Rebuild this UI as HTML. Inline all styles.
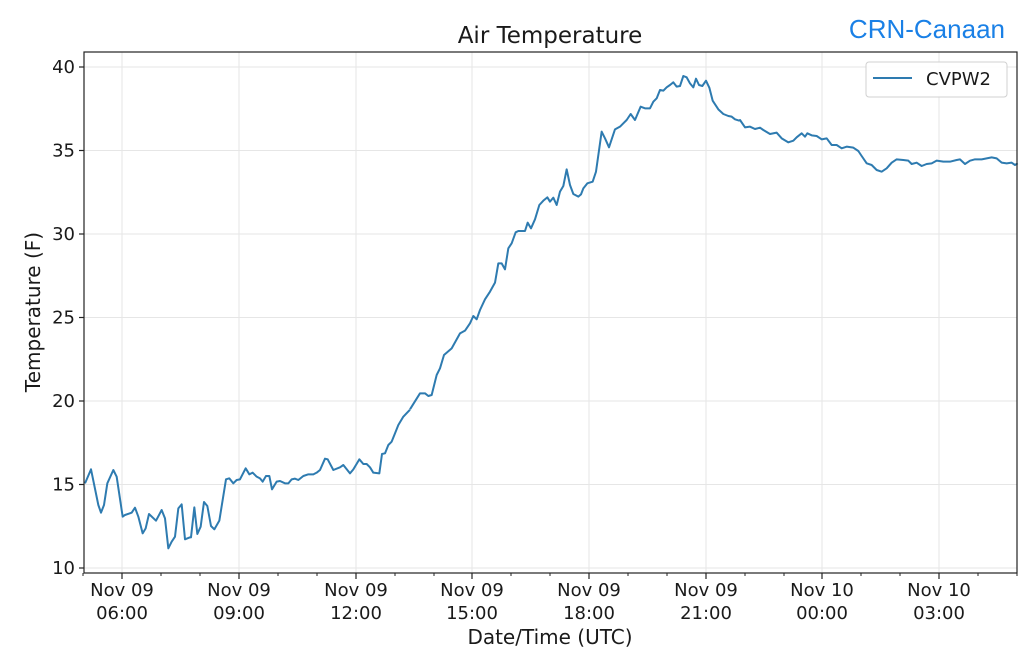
<!DOCTYPE html>
<html><head><meta charset="utf-8"><style>
html,body{margin:0;padding:0;background:#fff;}
svg text{font-family:"DejaVu Sans","Liberation Sans",sans-serif;fill:#1a1a1a;}
</style></head><body>
<svg width="1024" height="661" viewBox="0 0 1024 661" xmlns="http://www.w3.org/2000/svg">
<rect width="1024" height="661" fill="#fff"/>
<g stroke="#e6e6e6" stroke-width="1">
<line x1="84" x2="1017" y1="67" y2="67"/><line x1="84" x2="1017" y1="150.5" y2="150.5"/>
<line x1="84" x2="1017" y1="234" y2="234"/><line x1="84" x2="1017" y1="317.5" y2="317.5"/>
<line x1="84" x2="1017" y1="401" y2="401"/><line x1="84" x2="1017" y1="484.5" y2="484.5"/>
<line x1="84" x2="1017" y1="568" y2="568"/>
<line y1="52" y2="573" x1="122" x2="122"/><line y1="52" y2="573" x1="239" x2="239"/>
<line y1="52" y2="573" x1="356" x2="356"/><line y1="52" y2="573" x1="472" x2="472"/>
<line y1="52" y2="573" x1="589" x2="589"/><line y1="52" y2="573" x1="706" x2="706"/>
<line y1="52" y2="573" x1="822" x2="822"/><line y1="52" y2="573" x1="939" x2="939"/>
</g>
<g fill="none" stroke="#2e7bb0" stroke-width="2" stroke-linejoin="round">
<g transform="translate(80,380) scale(0.33333)"><polyline vector-effect="non-scaling-stroke" points="15,310 33,268 55,375 63,398 72,375 82,310 100,270 110,290 128,410 135,405 155,398 165,383 175,410 188,460 197,445 207,402 228,422 245,390 255,415 265,505 275,485 285,470 295,385 305,373 315,478 330,472 333,472 343,382 352,462 362,440 372,366 382,378 393,438 403,448 418,422 438,298 448,295 460,310 470,300 480,298 497,265 508,283 518,278 530,290 540,295 548,305 558,288 568,288 576,328 590,305 600,303 615,310 625,310 635,298 645,296 655,300 670,288 685,283 700,283 710,278 720,270 735,236 743,238 760,270 780,262 790,255 810,280 820,268 838,238 850,252 860,252 870,262 880,278 898,280 906,222 915,220 925,195 935,185 945,160 955,135 970,110 990,89"/></g>
<g transform="translate(400,60) scale(0.33333)"><polyline vector-effect="non-scaling-stroke" points="30,1048 60,1000 75,1000 85,1008 95,1005 110,945 120,925 132,885 155,865 180,820 195,812 210,790 220,768 230,778 240,750 255,718 270,695 285,668 295,610 305,610 315,628 325,565 335,550 347,517 355,513 375,513 383,488 393,505 405,478 418,435 430,422 442,412 450,425 460,413 470,435 480,395 490,378 500,328 510,375 520,402 535,410 543,403 550,385 562,370 578,365 588,335 605,215 615,235 627,262 645,208 660,200 670,190 680,180 692,162 705,180 722,140 735,145 750,145 760,125 770,115 780,90 790,92 800,82 810,75 820,67 830,80 840,78 850,48 860,52 870,70 880,82 888,56 897,75 907,78 918,62 928,83 938,122 955,148 970,162 985,168 995,170 1005,178 1018,182"/></g>
<g transform="translate(690,50) scale(0.33333)"><polyline vector-effect="non-scaling-stroke" points="147,213 150,210 165,232 180,230 195,237 210,233 220,240 240,252 260,248 275,265 295,277 310,272 320,262 335,250 345,260 352,250 365,256 380,258 395,268 410,265 425,285 440,285 455,295 470,290 490,293 505,303 515,318 530,340 545,345 560,360 575,365 590,355 605,338 620,328 640,330 655,332 665,342 680,338 695,348 710,342 725,340 740,332 760,335 780,335 800,330 810,328 825,342 840,332 855,328 875,328 890,325 905,322 920,325 935,338 950,340 965,338 975,345 983,340"/></g>
</g>
<rect x="84" y="52" width="933" height="521" fill="none" stroke="#222" stroke-width="1.2"/>
<g stroke="#222" stroke-width="1.2">
<line x1="79" x2="84" y1="67" y2="67"/><line x1="79" x2="84" y1="150.5" y2="150.5"/><line x1="79" x2="84" y1="234" y2="234"/><line x1="79" x2="84" y1="317.5" y2="317.5"/><line x1="79" x2="84" y1="401" y2="401"/><line x1="79" x2="84" y1="484.5" y2="484.5"/><line x1="79" x2="84" y1="568" y2="568"/>
<line y1="573" y2="579" x1="122" x2="122"/><line y1="573" y2="579" x1="239" x2="239"/><line y1="573" y2="579" x1="356" x2="356"/><line y1="573" y2="579" x1="472" x2="472"/><line y1="573" y2="579" x1="589" x2="589"/><line y1="573" y2="579" x1="706" x2="706"/><line y1="573" y2="579" x1="822" x2="822"/><line y1="573" y2="579" x1="939" x2="939"/>
</g>
<g stroke="#222" stroke-width="1">
<line y1="573" y2="576" x1="83" x2="83"/><line y1="573" y2="576" x1="161" x2="161"/><line y1="573" y2="576" x1="200" x2="200"/><line y1="573" y2="576" x1="278" x2="278"/><line y1="573" y2="576" x1="317" x2="317"/><line y1="573" y2="576" x1="395" x2="395"/><line y1="573" y2="576" x1="434" x2="434"/><line y1="573" y2="576" x1="511" x2="511"/><line y1="573" y2="576" x1="550" x2="550"/><line y1="573" y2="576" x1="628" x2="628"/><line y1="573" y2="576" x1="667" x2="667"/><line y1="573" y2="576" x1="745" x2="745"/><line y1="573" y2="576" x1="784" x2="784"/><line y1="573" y2="576" x1="861" x2="861"/><line y1="573" y2="576" x1="900" x2="900"/><line y1="573" y2="576" x1="978" x2="978"/><line y1="573" y2="576" x1="1017" x2="1017"/>
</g>
<g font-size="18" text-anchor="end">
<text x="75" y="73">40</text><text x="75" y="156.5">35</text><text x="75" y="240">30</text><text x="75" y="323.5">25</text><text x="75" y="407">20</text><text x="75" y="490.5">15</text><text x="75" y="574">10</text>
</g>
<g font-size="18" text-anchor="middle">
<text x="122" y="596">Nov 09</text><text x="122" y="619">06:00</text>
<text x="239" y="596">Nov 09</text><text x="239" y="619">09:00</text>
<text x="356" y="596">Nov 09</text><text x="356" y="619">12:00</text>
<text x="472" y="596">Nov 09</text><text x="472" y="619">15:00</text>
<text x="589" y="596">Nov 09</text><text x="589" y="619">18:00</text>
<text x="706" y="596">Nov 09</text><text x="706" y="619">21:00</text>
<text x="822" y="596">Nov 10</text><text x="822" y="619">00:00</text>
<text x="939" y="596">Nov 10</text><text x="939" y="619">03:00</text>
</g>
<text x="550" y="644" font-size="20" text-anchor="middle">Date/Time (UTC)</text>
<text transform="translate(40,312) rotate(-90)" font-size="20" text-anchor="middle">Temperature (F)</text>
<text x="550" y="43" font-size="23" text-anchor="middle">Air Temperature</text>
<text x="1005" y="38" font-size="26" text-anchor="end" style="fill:#1a80e6;font-family:'Liberation Sans',sans-serif">CRN-Canaan</text>
<rect x="866" y="62" width="141" height="35" rx="3" fill="#fff" fill-opacity="0.85" stroke="#d0d0d0"/>
<line x1="873" x2="912" y1="78" y2="78" stroke="#2e7bb0" stroke-width="2"/>
<text x="926" y="85" font-size="18">CVPW2</text>
</svg>
</body></html>
